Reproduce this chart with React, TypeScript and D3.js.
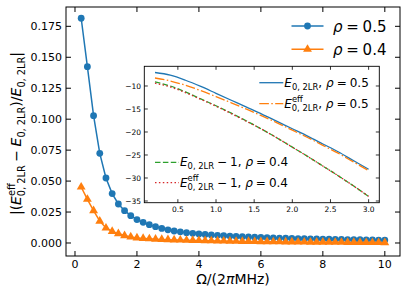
import React from 'react';
import * as d3 from 'd3';

// main panel: relative deviation vs Omega/(2pi MHz)
const omega = [
  0.2, 0.4, 0.6, 0.8, 1.0, 1.2, 1.4, 1.6, 1.8, 2.0,
  2.2, 2.4, 2.6, 2.8, 3.0, 3.2, 3.4, 3.6, 3.8, 4.0,
  4.2, 4.4, 4.6, 4.8, 5.0, 5.2, 5.4, 5.6, 5.8, 6.0,
  6.2, 6.4, 6.6, 6.8, 7.0, 7.2, 7.4, 7.6, 7.8, 8.0,
  8.2, 8.4, 8.6, 8.8, 9.0, 9.2, 9.4, 9.6, 9.8, 10.0,
];
const devRho05 = [
  0.1815, 0.1424, 0.1028, 0.0724, 0.0525, 0.0399, 0.0315, 0.0261, 0.0221, 0.0189,
  0.0167, 0.0148, 0.0132, 0.0118, 0.0106, 0.0097, 0.0090, 0.0083, 0.0078, 0.0073,
  0.0069, 0.0065, 0.0062, 0.0059, 0.0056, 0.0053, 0.0051, 0.0049, 0.0047, 0.0045,
  0.0043, 0.0042, 0.0040, 0.0039, 0.0037, 0.0036, 0.0035, 0.0034, 0.0033, 0.0032,
  0.0031, 0.0030, 0.0029, 0.0028, 0.0027, 0.0027, 0.0026, 0.0025, 0.0024, 0.0024,
];
const devRho04 = [
  0.0452, 0.0353, 0.0261, 0.0177, 0.0121, 0.0094, 0.0076, 0.0060, 0.0049, 0.0041,
  0.0037, 0.0034, 0.0031, 0.0029, 0.0027, 0.0025, 0.0024, 0.0022, 0.0021, 0.0020,
  0.0019, 0.0018, 0.0017, 0.0016, 0.0015, 0.0014, 0.0013, 0.0013, 0.0012, 0.0011,
  0.0011, 0.0010, 0.0010, 0.0009, 0.0009, 0.0008, 0.0008, 0.0007, 0.0007, 0.0007,
  0.0006, 0.0006, 0.0006, 0.0005, 0.0005, 0.0005, 0.0004, 0.0004, 0.0004, 0.0003,
];
const mainXTicks = [0, 2, 4, 6, 8, 10];
const mainYTicks = [0, 0.025, 0.05, 0.075, 0.1, 0.125, 0.15, 0.175];

// inset: energies
const omegaIn = [0.2, 0.4, 0.6, 0.8, 1.0, 1.2, 1.4, 1.6, 1.8, 2.0, 2.2, 2.4, 2.6, 2.8, 3.0];
const e05 = [-7.07, -7.65, -8.75, -10.1, -11.6, -13.1, -14.6, -16.1, -17.7, -19.3, -20.9, -22.6, -24.3, -26.2, -28.1];
const eEff05 = [-8.26, -8.9, -9.85, -11.0, -12.3, -13.65, -15.05, -16.5, -18.0, -19.6, -21.2, -22.9, -24.6, -26.5, -28.4];
const e04m1 = [-9.13, -10.0, -11.3, -12.8, -14.3, -15.9, -17.6, -19.4, -21.3, -23.3, -25.3, -27.4, -29.5, -31.7, -34.0];
const eEff04m1 = [-9.4, -10.2, -11.45, -12.9, -14.4, -16.0, -17.7, -19.4, -21.3, -23.3, -25.3, -27.4, -29.5, -31.7, -34.0];
const inXTicks = [0.5, 1.0, 1.5, 2.0, 2.5, 3.0];
const inYTicks = [-10, -15, -20, -25, -30, -35];

const BLUE = '#1f77b4';
const ORANGE = '#ff7f0e';
const GREEN = '#2ca02c';
const RED = '#d62728';
const FONT = 'DejaVu Sans, sans-serif';

type Seg = { t: string; s?: number; off?: number; it?: boolean; back?: number };

// render a row of math segments as tspans (off: baseline shift in units of fs, + is down)
function mathSpans(segs: Seg[], fs: number) {
  let prev = 0;
  return segs.map((g, i) => {
    const off = (g.off ?? 0) * fs;
    const dy = off - prev;
    prev = off;
    return (
      <tspan
        key={i}
        dy={dy || undefined}
        dx={g.back ? -g.back * fs : undefined}
        fontSize={(g.s ?? 1) * fs}
        fontStyle={g.it ? 'italic' : 'normal'}
      >
        {g.t}
      </tspan>
    );
  });
}

const SP = '\u2005'; // math spacing around = and −
const SUB = 0.7;
const effW = 1.319 * SUB; // width of "eff" in em of parent
const E: Seg[] = [{ t: 'E', it: true }, { t: '0, 2LR', s: SUB, off: 0.26 }];
const Eeff: Seg[] = [
  { t: 'E', it: true },
  { t: 'eff', s: SUB, off: -0.46 },
  { t: '0, 2LR', s: SUB, off: 0.26, back: effW },
];

export default function App() {
  const W = 407;
  const H = 296;
  const m = { l: 66, r: 400, t: 7, b: 256 };
  const x = d3.scaleLinear().domain([-0.29, 10.49]).range([m.l, m.r]);
  const y = d3.scaleLinear().domain([-0.0105, 0.1906]).range([m.b, m.t]);

  const ins = { l: 144.3, r: 379.3, t: 66.3, b: 202.7 };
  const xi = d3.scaleLinear().domain([0.06, 3.14]).range([ins.l, ins.r]);
  const yi = d3.scaleLinear().domain([-35.37, -5.72]).range([ins.b, ins.t]);

  const mainLine = d3.line<number>().x((_, i) => x(omega[i])).y((d) => y(d));
  const inLine = d3
    .line<number>()
    .x((_, i) => xi(omegaIn[i]))
    .y((d) => yi(d))
    .curve(d3.curveMonotoneX);

  const tri = d3.symbol().type(d3.symbolTriangle).size(34)();

  const tk = 5;
  const tki = 3.5;

  const inSeries = [
    { d: e05, c: BLUE, dash: undefined },
    { d: eEff05, c: ORANGE, dash: '9.6,2.4,1.5,2.4' },
    { d: e04m1, c: GREEN, dash: '5.5,2.4' },
    { d: eEff04m1, c: RED, dash: '1.5,2.4' },
  ];

  const lfs = 12;
  const rho = (v: string): Seg[] => [{ t: 'ρ', it: true }, { t: `${SP}=${SP}${v}` }];

  return (
    <svg width={W} height={H} style={{ position: 'absolute', left: 0, top: 0, background: '#fff' }} fontFamily={FONT}>
      <rect width={W} height={H} fill="#fff" />

      {/* main series */}
      <path d={mainLine(devRho05) ?? ''} fill="none" stroke={BLUE} strokeWidth={1.5} />
      {devRho05.map((v, i) => (
        <circle key={'b' + i} cx={x(omega[i])} cy={y(v)} r={3.4} fill={BLUE} />
      ))}
      <path d={mainLine(devRho04) ?? ''} fill="none" stroke={ORANGE} strokeWidth={1.5} />
      {devRho04.map((v, i) => (
        <path key={'o' + i} d={tri ?? ''} transform={`translate(${x(omega[i])},${y(v)})`} fill={ORANGE} />
      ))}

      {/* main frame and ticks */}
      <rect x={m.l} y={m.t} width={m.r - m.l} height={m.b - m.t} fill="none" stroke="#000" strokeWidth={1} />
      {mainXTicks.map((t) => (
        <g key={'xt' + t}>
          <line x1={x(t)} x2={x(t)} y1={m.b} y2={m.b - tk} stroke="#000" />
          <line x1={x(t)} x2={x(t)} y1={m.t} y2={m.t + tk} stroke="#000" />
          <text x={x(t)} y={268} fontSize={11} textAnchor="middle">{t}</text>
        </g>
      ))}
      {mainYTicks.map((t) => (
        <g key={'yt' + t}>
          <line x1={m.l} x2={m.l + tk} y1={y(t)} y2={y(t)} stroke="#000" />
          <line x1={m.r} x2={m.r - tk} y1={y(t)} y2={y(t)} stroke="#000" />
          <text x={62} y={y(t) + 4} fontSize={11} textAnchor="end">{t.toFixed(3)}</text>
        </g>
      ))}

      {/* axis labels */}
      <text x={(m.l + m.r) / 2} y={284} fontSize={14} textAnchor="middle">
        {mathSpans([{ t: 'Ω/(2' }, { t: 'π', it: true }, { t: 'MHz)' }], 14)}
      </text>
      <text transform={`translate(21,${(m.t + m.b) / 2 + 2}) rotate(-90)`} fontSize={14} textAnchor="middle">
        {mathSpans(
          [
            { t: '|(' },
            ...Eeff,
            { t: `${SP}−${SP}` },
            ...E,
            { t: ')/' },
            ...E,
            { t: '|' },
          ],
          14,
        )}
      </text>

      {/* main legend */}
      <g>
        <line x1={291.5} x2={323.5} y1={26} y2={26} stroke={BLUE} strokeWidth={1.5} />
        <circle cx={307.5} cy={26} r={3.4} fill={BLUE} />
        <text x={333} y={31.5} fontSize={15}>
          {mathSpans(rho('0.5'), 15)}
        </text>
        <line x1={291.5} x2={323.5} y1={49.3} y2={49.3} stroke={ORANGE} strokeWidth={1.5} />
        <path d={tri ?? ''} transform="translate(307.5,49.3)" fill={ORANGE} />
        <text x={333} y={54.8} fontSize={15}>
          {mathSpans(rho('0.4'), 15)}
        </text>
      </g>

      {/* inset */}
      <rect x={ins.l} y={ins.t} width={ins.r - ins.l} height={ins.b - ins.t} fill="#fff" />
      {inSeries.map((s, k) => (
        <path
          key={'in' + k}
          d={inLine(s.d) ?? ''}
          fill="none"
          stroke={s.c}
          strokeWidth={1.3}
          strokeDasharray={s.dash}
        />
      ))}
      <rect x={ins.l} y={ins.t} width={ins.r - ins.l} height={ins.b - ins.t} fill="none" stroke="#000" strokeWidth={0.9} />
      {inXTicks.map((t) => (
        <g key={'ixt' + t}>
          <line x1={xi(t)} x2={xi(t)} y1={ins.b} y2={ins.b - tki} stroke="#000" strokeWidth={0.8} />
          <line x1={xi(t)} x2={xi(t)} y1={ins.t} y2={ins.t + tki} stroke="#000" strokeWidth={0.8} />
          <text x={xi(t)} y={211.5} fontSize={7.5} textAnchor="middle">{t.toFixed(1)}</text>
        </g>
      ))}
      {inYTicks.map((t) => (
        <g key={'iyt' + t}>
          <line x1={ins.l} x2={ins.l + tki} y1={yi(t)} y2={yi(t)} stroke="#000" strokeWidth={0.8} />
          <line x1={ins.r} x2={ins.r - tki} y1={yi(t)} y2={yi(t)} stroke="#000" strokeWidth={0.8} />
          <text x={141} y={yi(t) + 2.7} fontSize={7.5} textAnchor="end">{'−' + Math.abs(t)}</text>
        </g>
      ))}

      {/* inset legends */}
      {[
        { c: BLUE, dash: undefined, x0: 259.3, yy: 82.7, segs: [...E, { t: ', ' }, ...rho('0.5')] },
        { c: ORANGE, dash: '9.6,2.4,1.5,2.4', x0: 259.3, yy: 103.7, segs: [...Eeff, { t: ', ' }, ...rho('0.5')] },
        { c: GREEN, dash: '5.5,2.4', x0: 155, yy: 162.3, segs: [...E, { t: `${SP}−${SP}1, ` }, ...rho('0.4')] },
        { c: RED, dash: '1.5,2.4', x0: 155, yy: 182.7, segs: [...Eeff, { t: `${SP}−${SP}1, ` }, ...rho('0.4')] },
      ].map((l, k) => (
        <g key={'lg' + k}>
          <line x1={l.x0} x2={l.x0 + 24} y1={l.yy} y2={l.yy} stroke={l.c} strokeWidth={1.3} strokeDasharray={l.dash} />
          <text x={l.x0 + 25} y={l.yy + 4} fontSize={lfs}>
            {mathSpans(l.segs, lfs)}
          </text>
        </g>
      ))}
    </svg>
  );
}
